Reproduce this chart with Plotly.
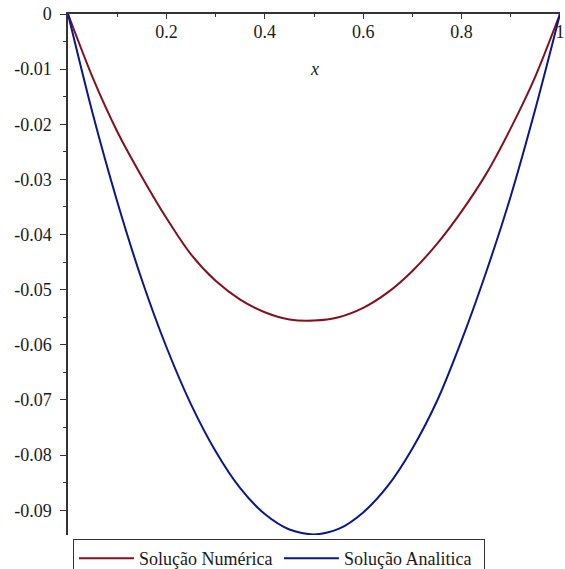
import plotly.graph_objects as go

x_vals = [0.0, 0.05, 0.1, 0.15, 0.2, 0.25, 0.3, 0.35, 0.4, 0.45, 0.5,
          0.55, 0.6, 0.65, 0.7, 0.75, 0.8, 0.85, 0.9, 0.95, 1.0]
numerica = [0.0, -0.0115, -0.0213, -0.0295, -0.0370, -0.0436, -0.0484, -0.0518, -0.0541, -0.0554, -0.0556,
            -0.0550, -0.0533, -0.0505, -0.0466, -0.0417, -0.0358, -0.0290, -0.0207, -0.0113, 0.0]
analitica = [0.0, -0.0180, -0.0340, -0.0482, -0.0604, -0.0708, -0.0793, -0.0860, -0.0907, -0.0935, -0.0944,
             -0.0934, -0.0904, -0.0856, -0.0788, -0.0702, -0.0592, -0.0468, -0.0330, -0.0172, 0.0]

series_names = ["Solução Numérica", "Solução Analitica"]
series_colors = ["#82101F", "#0A168C"]

x_ticks = [0.2, 0.4, 0.6, 0.8, 1.0]
x_ticktext = ["0.2", "0.4", "0.6", "0.8", "1"]
y_ticks = [0, -0.01, -0.02, -0.03, -0.04, -0.05, -0.06, -0.07, -0.08, -0.09]
y_ticktext = ["0", "-0.01", "-0.02", "-0.03", "-0.04", "-0.05", "-0.06", "-0.07", "-0.08", "-0.09"]

font_fam = "Liberation Serif, Times New Roman, serif"
axis_col = "#333333"
text_col = "#1a1a1a"

fig = go.Figure()
for name, ys, col in zip(series_names, [numerica, analitica], series_colors):
    fig.add_trace(go.Scatter(x=x_vals, y=ys, mode="lines", name=name,
                             line=dict(color=col, width=2, shape="spline", smoothing=0.8)))

fig.update_layout(
    width=565, height=569,
    margin=dict(l=68, r=5, t=14, b=34, autoexpand=False),
    paper_bgcolor="white", plot_bgcolor="white",
    font=dict(family=font_fam, size=18, color=text_col),
    showlegend=True,
    legend=dict(orientation="h", x=0.01, xanchor="left", y=-4 / 521, yanchor="top",
                bordercolor=axis_col, borderwidth=1, bgcolor="white",
                font=dict(family=font_fam, size=18, color=text_col),
                itemwidth=55, entrywidth=135, entrywidthmode="pixels", tracegroupgap=0),
    xaxis=dict(range=[0, 1], side="top", showgrid=False, zeroline=False, automargin=False,
               showline=True, linecolor=axis_col, linewidth=1.5,
               tickvals=x_ticks, ticktext=x_ticktext,
               ticks="inside", ticklen=5, tickcolor=axis_col,
               ticklabelposition="inside", ticklabeloverflow="allow", ticklabelstandoff=7,
               minor=dict(dtick=0.1, tick0=0, ticks="inside", ticklen=3, tickcolor=axis_col),
               tickfont=dict(family=font_fam, size=18, color=text_col)),
    yaxis=dict(range=[-0.0945, 0], showgrid=False, zeroline=False, automargin=False,
               showline=True, linecolor=axis_col, linewidth=1.5,
               tickvals=y_ticks, ticktext=y_ticktext,
               ticks="outside", ticklen=6, tickcolor=axis_col,
               ticklabeloverflow="allow", ticklabelstandoff=5,
               minor=dict(dtick=0.005, tick0=0, ticks="outside", ticklen=3, tickcolor=axis_col),
               tickfont=dict(family=font_fam, size=18, color=text_col)),
)

fig.add_annotation(x=0.5, xref="x", y=1 - 43 / 521, yref="paper", text="<i>x</i>",
                   showarrow=False, font=dict(family=font_fam, size=18, color=text_col))

# remove the default 8px page margin so the figure fills the window exactly
fig.write_html("out.html", config={"displayModeBar": False},
               post_script="document.body.style.margin='0';")
